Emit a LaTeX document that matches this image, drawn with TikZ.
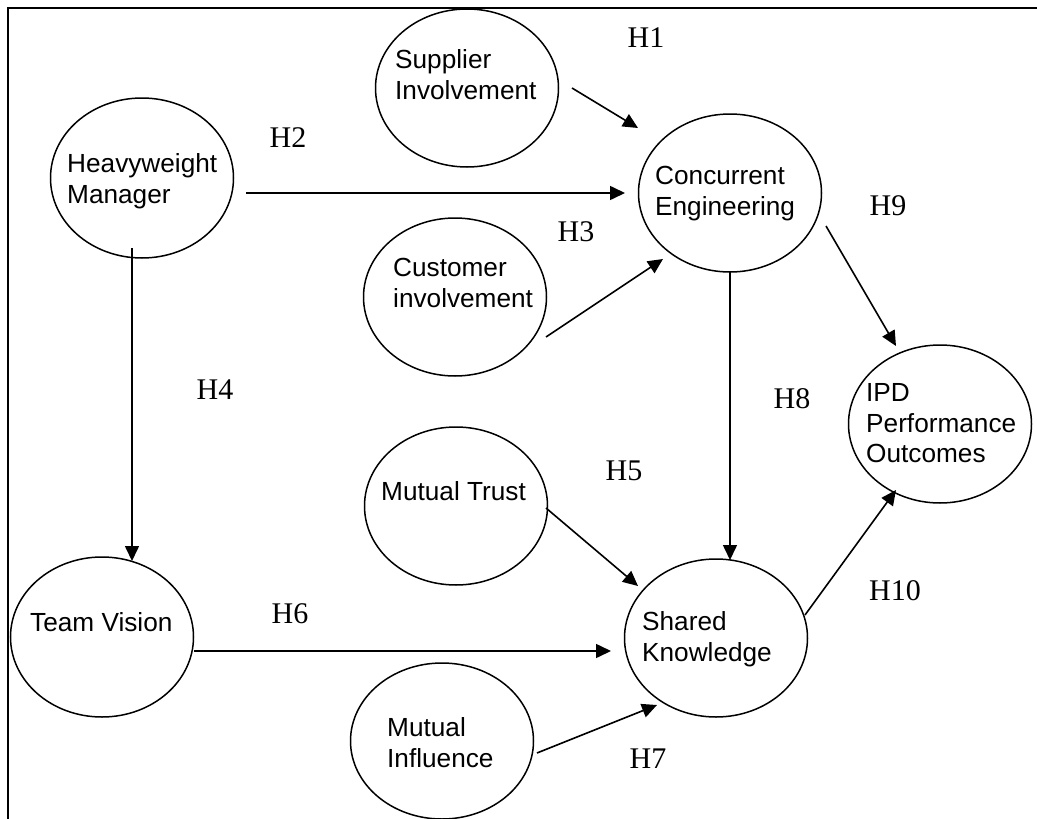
\documentclass[tikz,border=0pt]{standalone}
\usepackage{fontspec}
\setmainfont{Liberation Serif}
\newfontfamily\arialfont{Liberation Sans}
\usetikzlibrary{shapes.geometric,arrows.meta,calc}

\tikzset{
  construct/.style={draw, ellipse, line width=1.5pt, inner sep=0pt,
                    minimum width=183pt, minimum height=158pt},
  lbl/.style={anchor=west, inner sep=0pt, align=left,
              font=\arialfont\fontsize{26.2}{30.5}\selectfont},
  hyp/.style={inner sep=0pt, font=\fontsize{30}{36}\selectfont},
  arr/.style={line width=1.6pt, -{Triangle[length=15pt,width=14pt]}},
  frame/.style={line width=2.2pt}
}

\begin{document}
\begin{tikzpicture}[x=1pt,y=-1pt]
\useasboundingbox (0,0) rectangle (1037,819);

% open frame: top and left rules only
\draw[frame] (8,819) -- (8,8) -- (1037,8);

% constructs
\node[construct, minimum height=160pt] (hm)  at (142,178) {};
\node[construct] (sup) at (467,88)  {};
\node[construct] (ce)  at (730,193) {};
\node[construct] (cus) at (455,297) {};
\node[construct] (mt)  at (456,506) {};
\node[construct, minimum height=160pt] (tv)  at (102,637) {};
\node[construct, minimum height=156pt] (mi)  at (442,741) {};
\node[construct] (sk)  at (716,638) {};
\node[construct] (ipd) at (940,424) {};

% construct names
\node[lbl] (hm-t)  at (67,182)  {Heavyweight\strut\\Manager\strut};
\node[lbl] (sup-t) at (395,78)  {Supplier\strut\\Involvement\strut};
\node[lbl] (ce-t)  at (655,194) {Concurrent\strut\\Engineering\strut};
\node[lbl] (cus-t) at (393,286) {Customer\strut\\involvement\strut};
\node[lbl] (mt-t)  at (381,494) {Mutual Trust\strut};
\node[lbl] (tv-t)  at (30,625)  {Team Vision\strut};
\node[lbl] (mi-t)  at (387,746) {Mutual\strut\\Influence\strut};
\node[lbl] (sk-t)  at (642,640) {Shared\strut\\Knowledge\strut};
\node[lbl] (ipd-t) at (866,426) {IPD\strut\\Performance\strut\\Outcomes\strut};

% hypothesised paths
\draw[arr] ($(sup)+(105,0)$)  -- ($(ce)+(-92,-65)$);
\draw[arr] ($(hm)+(104,15)$)  -- ($(ce)+(-105,0)$);
\draw[arr] ($(cus)+(91,40)$)  -- ($(ce)+(-67,66)$);
\draw[arr] ($(hm)+(-10,70)$)  -- ($(tv)+(30,-76)$);
\draw[arr] ($(mt)+(90,2)$)    -- ($(sk)+(-78,-52)$);
\draw[arr] ($(tv)+(92,14)$)   -- ($(sk)+(-105,13)$);
\draw[arr] ($(mi)+(95,12)$)   -- ($(sk)+(-59,67)$);
\draw[arr] ($(ce)+(0,79)$)    -- ($(sk)+(14,-78)$);
\draw[arr] ($(ce)+(96,33)$)   -- ($(ipd)+(-44,-78)$);
\draw[arr] ($(sk)+(89,-23)$)  -- ($(ipd)+(-44,66)$);

% hypothesis labels
\node[hyp] (h1)  at (646,38)  {H1};
\node[hyp] (h2)  at (288,138) {H2};
\node[hyp] (h3)  at (576,232) {H3};
\node[hyp] (h4)  at (215,390) {H4};
\node[hyp] (h5)  at (624,471) {H5};
\node[hyp] (h6)  at (290,614) {H6};
\node[hyp] (h7)  at (648,759) {H7};
\node[hyp] (h8)  at (792,399) {H8};
\node[hyp] (h9)  at (888,206) {H9};
\node[hyp] (h10) at (895,591) {H10};
\end{tikzpicture}
\end{document}
